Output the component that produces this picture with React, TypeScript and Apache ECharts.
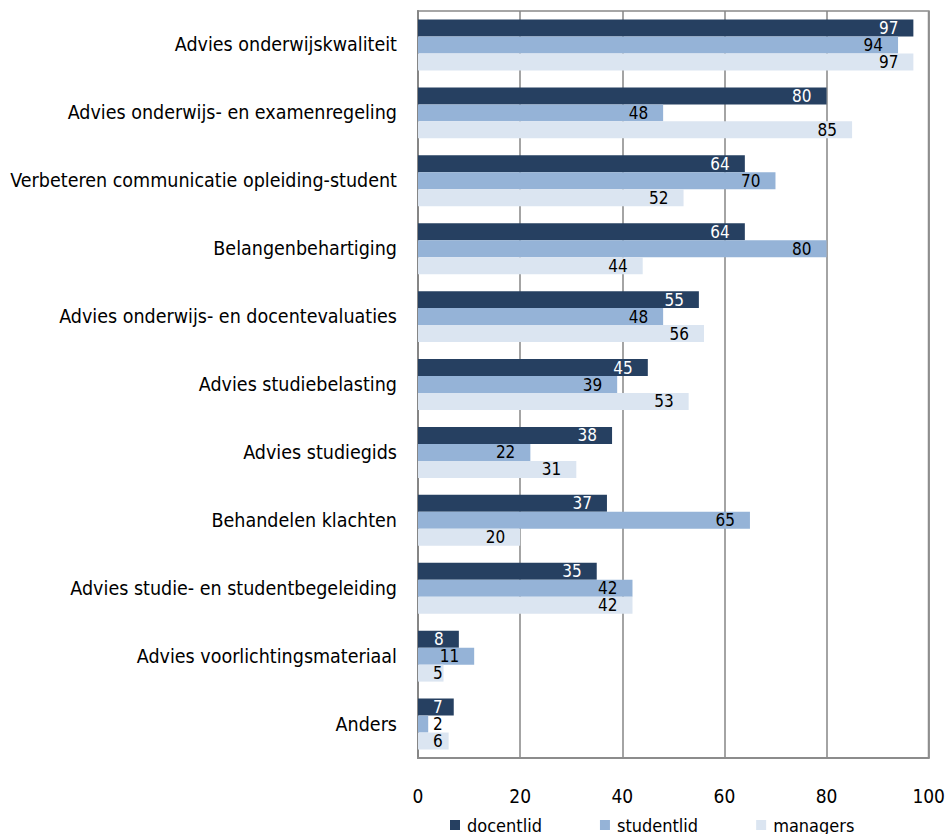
import React, { useEffect, useRef } from "react";
import * as echarts from "echarts";

const categories = [
  "Advies onderwijskwaliteit",
  "Advies onderwijs- en examenregeling",
  "Verbeteren communicatie opleiding-student",
  "Belangenbehartiging",
  "Advies onderwijs- en docentevaluaties",
  "Advies studiebelasting",
  "Advies studiegids",
  "Behandelen klachten",
  "Advies studie- en studentbegeleiding",
  "Advies voorlichtingsmateriaal",
  "Anders",
];

const docentlid = [97, 80, 64, 64, 55, 45, 38, 37, 35, 8, 7];
const studentlid = [94, 48, 70, 80, 48, 39, 22, 65, 42, 11, 2];
const managers = [97, 85, 52, 44, 56, 53, 31, 20, 42, 5, 6];

const xTicks = { min: 0, max: 100, interval: 20 };

const FONT = "DejaVu Sans Condensed, DejaVu Sans, sans-serif";

// Short bars keep their label pinned just right of the axis.
function items(values: number[], color: string) {
  return values.map((v) => ({
    value: v,
    label:
      v < 8
        ? { position: "insideLeft", distance: 15, color }
        : { position: "insideRight", distance: 15, color },
  }));
}

export default function App() {
  const ref = useRef<HTMLDivElement>(null);

  useEffect(() => {
    if (!ref.current) return;
    const chart = echarts.init(ref.current, null, { renderer: "svg" });
    const seriesDefs = [
      { name: "docentlid", data: docentlid, color: "#264061", text: "#ffffff" },
      { name: "studentlid", data: studentlid, color: "#95b3d7", text: "#000000" },
      { name: "managers", data: managers, color: "#dbe5f1", text: "#000000" },
    ];
    chart.setOption({
      animation: false,
      backgroundColor: "#ffffff",
      grid: {
        left: 418,
        right: 18,
        top: 11,
        bottom: 76,
        show: true,
        borderColor: "#a6a6a6",
        borderWidth: 2,
        backgroundColor: "transparent",
      },
      legend: {
        top: 810,
        left: 445,
        itemWidth: 10,
        itemHeight: 10,
        itemGap: 58,
        icon: "rect",
        textStyle: {
          fontFamily: FONT,
          fontSize: 18,
          lineHeight: 20,
          color: "#000000",
          padding: [0, 0, 0, 2],
        },
        data: seriesDefs.map((s) => s.name),
      },
      xAxis: {
        type: "value",
        min: xTicks.min,
        max: xTicks.max,
        interval: xTicks.interval,
        axisLine: { show: true, lineStyle: { color: "#8c8c8c", width: 2 } },
        axisTick: { show: false },
        axisLabel: {
          margin: 28,
          fontFamily: FONT,
          fontSize: 19,
          color: "#000000",
        },
        splitLine: { show: true, lineStyle: { color: "#868686", width: 1.5 } },
      },
      yAxis: {
        type: "category",
        data: categories,
        inverse: true,
        axisLine: { show: true, lineStyle: { color: "#868686", width: 2 } },
        axisTick: { show: false },
        axisLabel: {
          margin: 21,
          fontFamily: FONT,
          fontSize: 19.5,
          color: "#000000",
        },
        splitLine: { show: false },
      },
      series: seriesDefs.map((s) => ({
        name: s.name,
        type: "bar",
        data: items(s.data, s.text),
        itemStyle: { color: s.color },
        barGap: "0%",
        barCategoryGap: "25%",
        label: {
          show: true,
          fontFamily: FONT,
          fontSize: 17,
          lineHeight: 15,
          color: s.text,
        },
      })),
    });
    return () => chart.dispose();
  }, []);

  return (
    <div
      ref={ref}
      style={{ position: "fixed", left: 0, top: 0, width: 948, height: 834 }}
    />
  );
}
